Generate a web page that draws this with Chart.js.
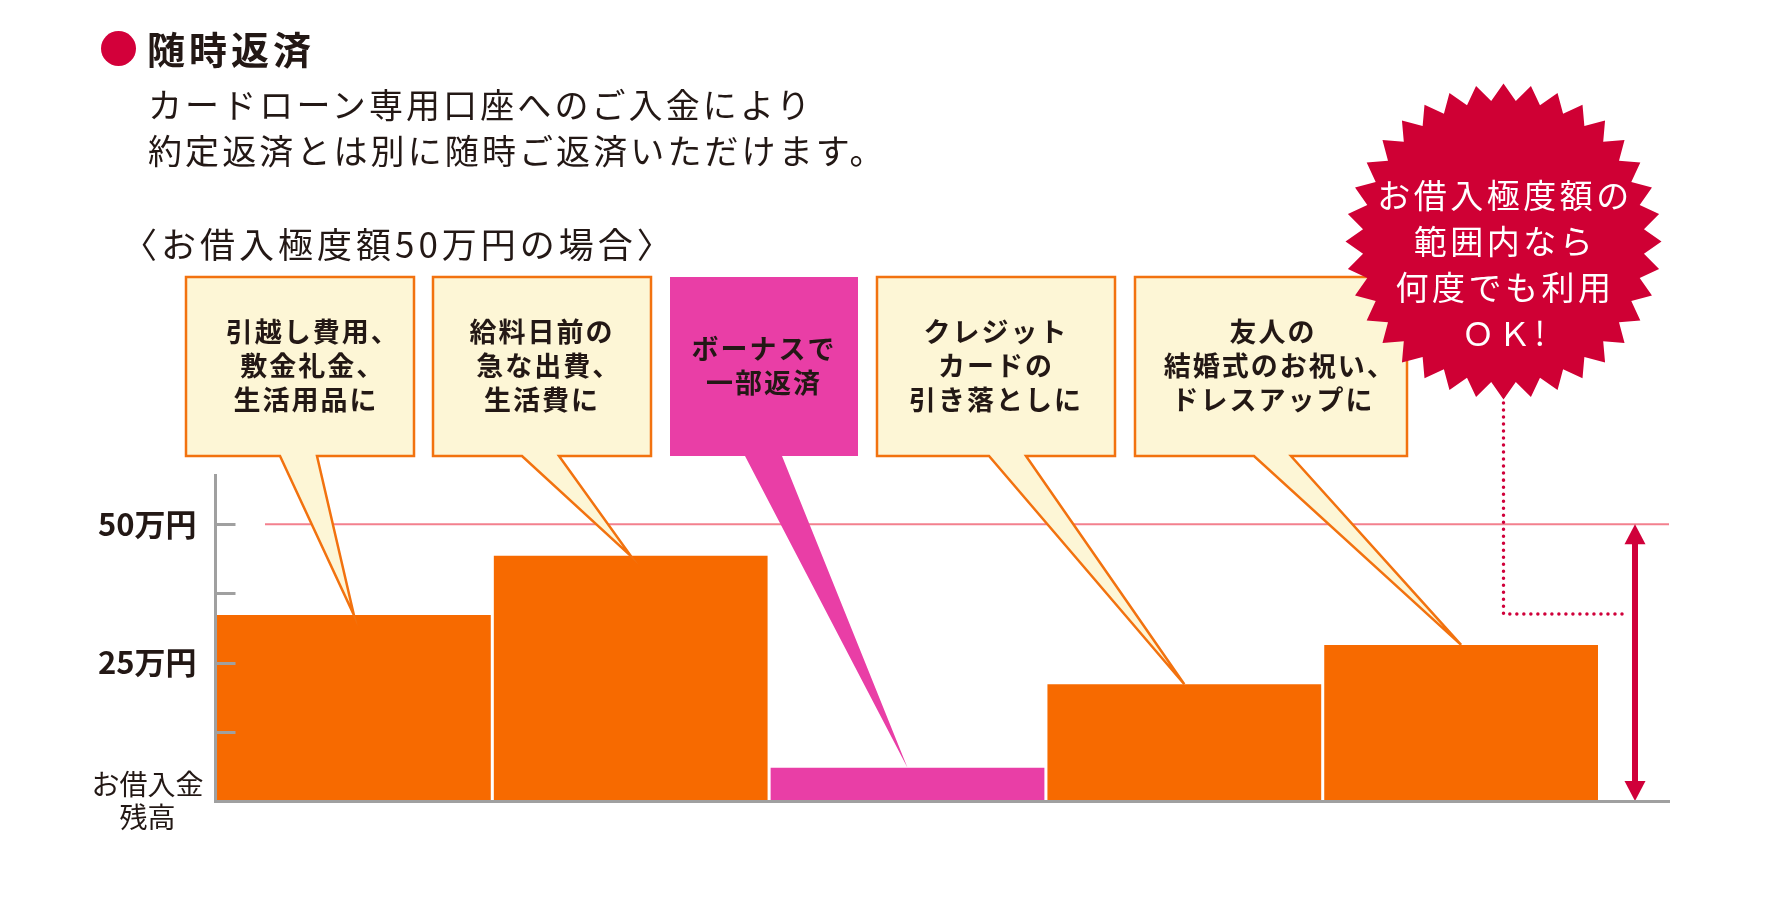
<!DOCTYPE html>
<html lang="ja">
<head>
    <meta charset="UTF-8">
    <title>随時返済</title>
    <script src="https://cdn.jsdelivr.net/npm/chart.js@4.4.1/dist/chart.umd.min.js"></script>
    <style>
        html, body { margin: 0; padding: 0; background: #fff; }
        body { width: 1788px; height: 914px; position: relative; overflow: hidden;
               font-family: "Noto Sans CJK JP", "Noto Sans", sans-serif; color: #231815; }
        #chart { position: absolute; left: 0; top: 0; }
        .txt { position: absolute; white-space: nowrap; }
        .dot { position: absolute; left: 101px; top: 31px; width: 35px; height: 35px; border-radius: 50%; background: #d3003a; }
        .title { left: 147px; top: 25px; font-size: 38px; font-weight: bold; letter-spacing: 4px; line-height: 46px; }
        .lead { left: 148px; top: 81px; font-size: 34px; letter-spacing: 3.1px; line-height: 45.6px; }
        .case { left: 122px; top: 220px; font-size: 35px; letter-spacing: 4px; line-height: 46px; }
        .box { position: absolute; display: flex; align-items: center; justify-content: center; text-align: center;
               white-space: nowrap; font-size: 27px; font-weight: bold; letter-spacing: 2px; line-height: 34px;
               padding-bottom: 3px; box-sizing: border-box; }
        .box .tc { margin-right: -0.5em; }
        .burst { left: 1351px; width: 308px; top: 171px; text-align: center; color: #fff;
                 font-size: 33px; letter-spacing: 3.5px; line-height: 46px; }
    </style>
</head>
<body>
    <canvas id="chart" width="1788" height="914"></canvas>

    <div class="dot"></div>
    <div class="txt title">随時返済</div>
    <div class="txt lead">カードローン専用口座へのご入金により<br>約定返済とは別に随時ご返済いただけます。</div>
    <div class="txt case">〈お借入極度額50万円の場合〉</div>
    <div id="callouts"></div>
    <div class="txt burst">お借入極度額の<br>範囲内なら<br>何度でも利用<br>ＯＫ!</div>

    <script>
        // データ（残高：万円）
        const categories = ["引越し", "給料日前", "ボーナス返済", "クレジットカード", "結婚式"];
        const balances = [33.6, 44.3, 6.0, 21.1, 28.2];
        const barKinds = ["use", "use", "repay", "use", "use"];
        const calloutLines = [
            ["引越し費用、", "敷金礼金、", "生活用品に"],
            ["給料日前の", "急な出費、", "生活費に"],
            ["ボーナスで", "一部返済"],
            ["クレジット", "カードの", "引き落としに"],
            ["友人の", "結婚式のお祝い、", "ドレスアップに"]
        ];
        const tickValues = [0, 25, 50];
        const tickLabels = [["お借入金", "残高　"], "25万円 ", "50万円 "];
        const limitValue = 50;
        const axisMax = 58.9;

        const ORANGE = "#f76a00";
        const MAGENTA = "#e93ea6";
        const CREAM = "#fdf6d6";
        const BOX_LINE = "#f2720f";
        const GREY = "#a0a0a0";
        const PINK = "#f3808e";
        const RED = "#d0003a";

        // 吹き出しの位置
        const boxes = [
            { x: 186, w: 228, tail: 280, dx: 6 },
            { x: 433, w: 218, tail: 522, dx: 0 },
            { x: 670, w: 188, tail: 745, dx: 0 },
            { x: 877, w: 238, tail: 989, dx: 0 },
            { x: 1135, w: 272, tail: 1254, dx: 2 }
        ];
        const BOX_TOP = 277, BOX_H = 179, TAIL_W = 37;

        const holder = document.getElementById("callouts");
        boxes.forEach((b, i) => {
            const d = document.createElement("div");
            d.className = "box";
            d.style.left = (b.x + b.dx) + "px";
            d.style.top = BOX_TOP + "px";
            d.style.width = b.w + "px";
            d.style.height = BOX_H + "px";
            const lines = calloutLines[i]
                .map(s => s.endsWith("、") ? s.slice(0, -1) + '<span class="tc">、</span>' : s)
                .join("<br>");
            d.innerHTML = "<div>" + lines + "</div>";
            holder.appendChild(d);
        });

        const decor = {
            id: "decor",
            beforeDatasetsDraw(chart) {
                const { ctx, chartArea, scales } = chart;
                const yy = scales.y.getPixelForValue(limitValue);
                ctx.save();
                ctx.strokeStyle = PINK;
                ctx.lineWidth = 2;
                ctx.beginPath();
                ctx.moveTo(265, yy);
                ctx.lineTo(chartArea.right, yy);
                ctx.stroke();
                ctx.restore();
            },
            afterDatasetsDraw(chart) {
                const { ctx, chartArea, scales } = chart;
                const xs = scales.x, ys = scales.y;
                ctx.save();

                // 内向きの目盛り
                ctx.strokeStyle = GREY;
                ctx.lineWidth = 3;
                ys.ticks.forEach(t => {
                    if (t.value <= 0 || t.value > limitValue) return;
                    const py = Math.round(ys.getPixelForValue(t.value)) + 0.5;
                    ctx.beginPath();
                    ctx.moveTo(chartArea.left, py);
                    ctx.lineTo(chartArea.left + 20, py);
                    ctx.stroke();
                });

                // 吹き出し
                const bottom = BOX_TOP + BOX_H;
                boxes.forEach((b, i) => {
                    const tipX = xs.getPixelForValue(i + 0.5);
                    const tipY = ys.getPixelForValue(balances[i]);
                    ctx.beginPath();
                    ctx.moveTo(b.x, BOX_TOP);
                    ctx.lineTo(b.x + b.w, BOX_TOP);
                    ctx.lineTo(b.x + b.w, bottom);
                    ctx.lineTo(b.tail + TAIL_W, bottom);
                    ctx.lineTo(tipX, tipY);
                    ctx.lineTo(b.tail, bottom);
                    ctx.lineTo(b.x, bottom);
                    ctx.closePath();
                    if (barKinds[i] === "repay") {
                        ctx.fillStyle = MAGENTA;
                        ctx.fill();
                    } else {
                        ctx.fillStyle = CREAM;
                        ctx.fill();
                        ctx.strokeStyle = BOX_LINE;
                        ctx.lineWidth = 2.5;
                        ctx.stroke();
                    }
                });

                // 極度額の矢印
                const ax = chartArea.right - 34;
                const yTop = ys.getPixelForValue(limitValue);
                const yBot = ys.getPixelForValue(0);
                ctx.strokeStyle = RED;
                ctx.fillStyle = RED;
                ctx.lineWidth = 6;
                ctx.beginPath();
                ctx.moveTo(ax, yTop + 18);
                ctx.lineTo(ax, yBot - 18);
                ctx.stroke();
                ctx.beginPath();
                ctx.moveTo(ax, yTop);
                ctx.lineTo(ax + 10.5, yTop + 20);
                ctx.lineTo(ax - 10.5, yTop + 20);
                ctx.closePath();
                ctx.fill();
                ctx.beginPath();
                ctx.moveTo(ax, yBot);
                ctx.lineTo(ax + 10.5, yBot - 20);
                ctx.lineTo(ax - 10.5, yBot - 20);
                ctx.closePath();
                ctx.fill();

                // 点線
                ctx.lineWidth = 3.5;
                ctx.lineCap = "round";
                ctx.setLineDash([0.01, 7]);
                ctx.beginPath();
                ctx.moveTo(1503.5, 396);
                ctx.lineTo(1503.5, 614);
                ctx.lineTo(1628, 614);
                ctx.stroke();
                ctx.setLineDash([]);

                // ギザギザの丸
                const cx = 1503.5, cy = 241.5, rOut = 158, rIn = 141, n = 36;
                ctx.beginPath();
                for (let k = 0; k < 2 * n; k++) {
                    const r = k % 2 ? rIn : rOut;
                    const a = -Math.PI / 2 + k * Math.PI / n;
                    const px = cx + r * Math.cos(a), py = cy + r * Math.sin(a);
                    if (k === 0) ctx.moveTo(px, py); else ctx.lineTo(px, py);
                }
                ctx.closePath();
                ctx.fillStyle = "#cf0034";
                ctx.fill();

                ctx.restore();
            }
        };

        new Chart(document.getElementById("chart"), {
            type: "bar",
            data: {
                labels: categories,
                datasets: [{
                    data: balances.map((v, i) => ({ x: i + 0.5, y: v })),
                    backgroundColor: barKinds.map(k => k === "repay" ? MAGENTA : ORANGE),
                    borderWidth: 0,
                    categoryPercentage: 1,
                    barPercentage: 0.989
                }]
            },
            options: {
                responsive: false,
                animation: false,
                layout: { padding: { left: 0, top: 475, right: 119, bottom: 113 } },
                plugins: { legend: { display: false }, tooltip: { enabled: false } },
                scales: {
                    x: {
                        type: "linear",
                        offset: false,
                        min: 0,
                        max: 5.251,
                        ticks: { display: false, stepSize: 10 },
                        grid: { display: false, drawTicks: false },
                        border: { color: GREY, width: 3, z: 1 },
                        afterFit: s => { s.height = 0; }
                    },
                    y: {
                        min: 0,
                        max: axisMax,
                        ticks: {
                            stepSize: 12.5,
                            autoSkip: false,
                            padding: 12,
                            color: "#231815",
                            font: c => (c.tick && c.tick.value === 0)
                                ? { family: "'Noto Sans CJK JP'", size: 28, weight: "normal", lineHeight: 1.2 }
                                : { family: "'Noto Sans CJK JP'", size: 31, weight: "bold" },
                            callback: v => {
                                const i = tickValues.indexOf(v);
                                return i < 0 ? "" : tickLabels[i];
                            }
                        },
                        grid: { display: false, drawTicks: false },
                        border: { color: GREY, width: 3, z: 1 },
                        afterFit: s => { s.width = 215.5; }
                    }
                }
            },
            plugins: [decor]
        });
    </script>
</body>
</html>
